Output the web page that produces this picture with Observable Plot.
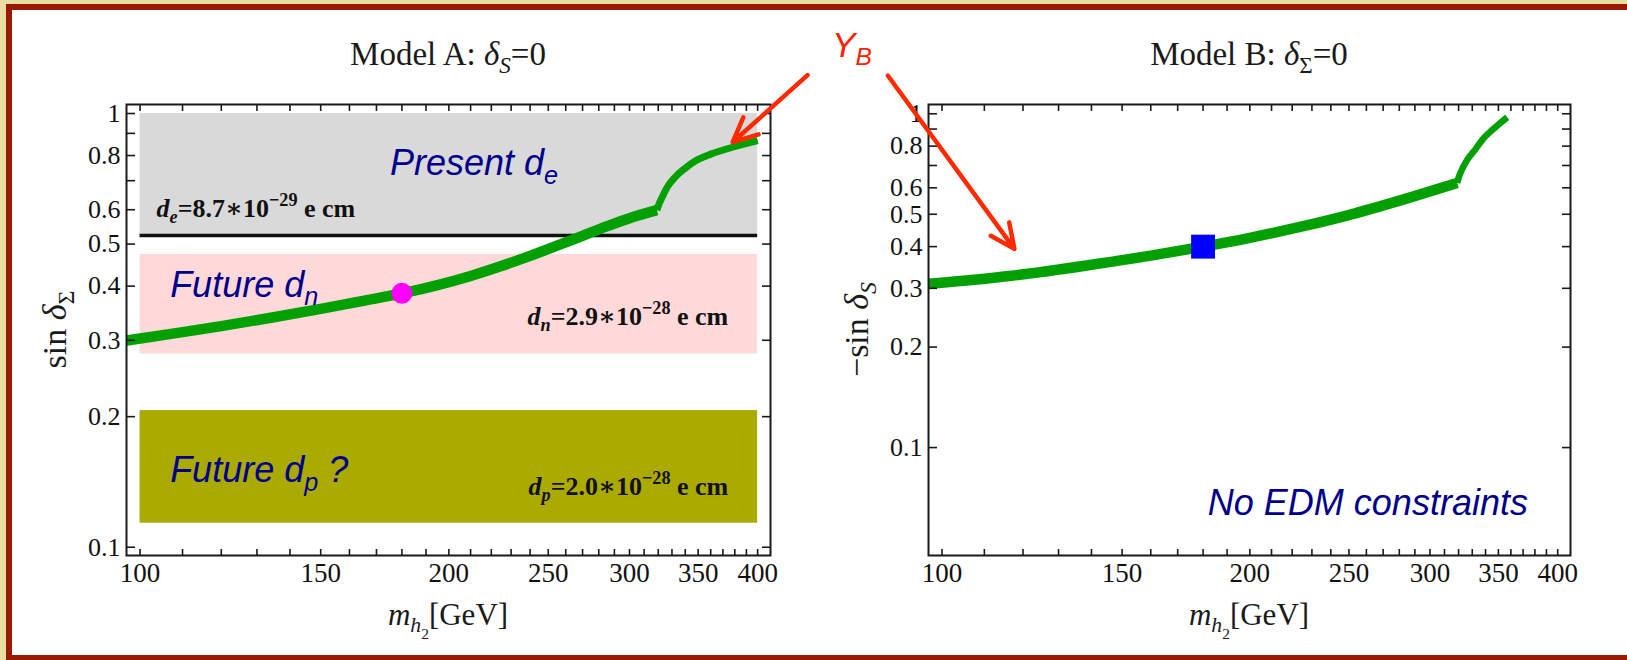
<!DOCTYPE html>
<html>
<head>
<meta charset="utf-8">
<script src="https://cdn.jsdelivr.net/npm/d3@7"></script>
<script src="https://cdn.jsdelivr.net/npm/@observablehq/plot@0.6"></script>
<style>
html, body { margin: 0; padding: 0; background: #fff; }
#page { position: relative; width: 1627px; height: 660px; background: #e9dd9f; overflow: hidden; }
#inner { position: absolute; left: 6px; top: 4px; width: 1621px; height: 656px; box-sizing: border-box;
  border-left: 6px solid #981a02; border-top: 6px solid #981a02; border-bottom: 5px solid #981a02; background: #fff; }
#page svg { position: absolute; left: 0; top: 0; }
</style>
</head>
<body>
<div id="page"><div id="inner"></div></div>
<script>
// ---------------- data ----------------
const massTicks = [100, 110, 120, 130, 140, 150, 160, 170, 180, 190, 200, 210, 220, 230, 240, 250,
                   260, 270, 280, 290, 300, 310, 320, 330, 340, 350, 360, 370, 380, 390, 400];
const massTickLabels = [100, 150, 200, 250, 300, 350, 400];
const sinTicks = [0.1, 0.2, 0.3, 0.4, 0.5, 0.6, 0.7, 0.8, 0.9, 1];
const sinTickLabels = [0.1, 0.2, 0.3, 0.4, 0.5, 0.6, 0.8, 1];
const massDomain = [97, 411.7];
const sinDomainA = [0.0957, 1.049];
const sinDomainB = [0.0475, 1.066];

// Model A: sin(delta_Sigma) vs m_h2 (Y_B curve)
const modelA_mass = [97, 108, 120, 135, 150, 166, 180, 195, 210, 225, 240, 255, 270, 285, 300, 319];
const modelA_sin  = [0.2996, 0.3112, 0.3235, 0.3391, 0.3544, 0.3709, 0.3847, 0.4020, 0.4221, 0.4449,
                     0.4696, 0.4957, 0.5225, 0.5493, 0.5738, 0.5988];
const modelA_massUpper = [319, 320.5, 322.8, 326, 332.3, 340, 348.3, 360, 378, 400];
const modelA_sinUpper  = [0.5988, 0.618, 0.641, 0.672, 0.713, 0.748, 0.779, 0.806, 0.836, 0.866];
const modelA_benchMass = [180];
const modelA_benchSin  = [0.385];

// Model B: -sin(delta_S) vs m_h2
const modelB_mass = [97, 117, 140, 160, 180, 200, 225, 253, 285, 319];
const modelB_sin  = [0.3094, 0.3272, 0.3529, 0.3757, 0.3999, 0.4251, 0.4596, 0.5024, 0.5578, 0.6201];
const modelB_massUpper = [319, 320, 322, 326, 332.6, 338, 344.7, 351, 357];
const modelB_sinUpper  = [0.6201, 0.643, 0.675, 0.725, 0.785, 0.840, 0.891, 0.935, 0.976];
const modelB_benchMass = [180];
const modelB_benchSin  = [0.3999];

// EDM bands (Model A)
const bandNames = ["present_de", "future_dn", "future_dp"];
const bandLow   = [0.523, 0.279, 0.1136];
const bandHigh  = [1.0, 0.473, 0.2066];
const bandMassRange = [100, 400];
const deLimit = [0.523];

// Y_B arrows (data coordinates of each panel)
const arrowA = {m1: [447.4], s1: [1.2256], m2: [378.2], s2: [0.8587]};
const arrowB = {m1: [88.5], s1: [1.302], m2: [117.7], s2: [0.3938]};

// ---------------- drawing ----------------
const W = 1627, H = 660;
const SERIF = "'Liberation Serif', 'DejaVu Serif', serif";
const SANS = "'Liberation Sans', Arial, sans-serif";
const zip = (xs, ys) => xs.map((x, i) => ({x, y: ys[i]}));
const bandFill = {present_de: "#d9d9d9", future_dn: "#ffd9d9", future_dp: "#aaaa00"};
const bands = bandNames.map((name, i) => ({name, x1: bandMassRange[0], x2: bandMassRange[1], y1: bandLow[i], y2: bandHigh[i]}));
const GREEN = "#03a003";

function frameAndAxes() {
  const ts = {stroke: "#1a1a1a", strokeWidth: 1.6};
  return [
    Plot.frame({stroke: "#1a1a1a", strokeWidth: 2}),
    Plot.axisX(massTicks, {anchor: "bottom", tickSize: -6, fill: "none", ...ts}),
    Plot.axisX(massTicks, {anchor: "top", tickSize: -6, fill: "none", ...ts}),
    Plot.axisY(sinTicks, {anchor: "left", tickSize: -9, fill: "none", ...ts}),
    Plot.axisY(sinTicks, {anchor: "right", tickSize: -9, fill: "none", ...ts}),
    Plot.axisX(massTickLabels, {anchor: "bottom", tickSize: 0, tickPadding: 7, tickFormat: d => String(d),
      fill: "#111", fontSize: 27, fontFamily: SERIF, label: null}),
    Plot.axisY(sinTickLabels, {anchor: "left", tickSize: 0, tickPadding: 6, tickFormat: d => String(d),
      fill: "#111", fontSize: 26, fontFamily: SERIF, label: null})
  ];
}

function panel(left, right, yDomain, marks, overlay) {
  return Plot.plot({
    width: W, height: H,
    marginLeft: left, marginRight: W - right, marginTop: 104, marginBottom: H - 555,
    x: {type: "log", domain: massDomain},
    y: {type: "log", domain: yDomain},
    style: {background: "transparent", fontFamily: SERIF, fontSize: "27px", color: "#1a1a1a", overflow: "visible", maxWidth: "none"},
    marks: [...marks, ...frameAndAxes(), ...overlay]
  });
}

const arrowOpts = {x1: "m1", y1: "s1", x2: "m2", y2: "s2", stroke: "#ff2a00", strokeWidth: 4.5, headLength: 9, headAngle: 50};
const asRows = a => a.m1.map((_, i) => ({m1: a.m1[i], s1: a.s1[i], m2: a.m2[i], s2: a.s2[i]}));

const chartA = panel(126, 770, sinDomainA, [
  ...bands.map(b => Plot.rect([b], {x1: "x1", x2: "x2", y1: "y1", y2: "y2", fill: bandFill[b.name]})),
  Plot.ruleY(deLimit, {x1: bandMassRange[0], x2: bandMassRange[1], stroke: "#111", strokeWidth: 3.5}),
  Plot.line(zip(modelA_mass, modelA_sin), {x: "x", y: "y", stroke: GREEN, strokeWidth: 10.5, curve: "monotone-x", strokeLinecap: "butt"}),
  Plot.line(zip(modelA_massUpper, modelA_sinUpper), {x: "x", y: "y", stroke: GREEN, strokeWidth: 7, curve: "monotone-x", strokeLinecap: "butt"}),
  Plot.dot(zip(modelA_benchMass, modelA_benchSin), {x: "x", y: "y", r: 10.5, fill: "#ff00ff"})
], [
  Plot.arrow(asRows(arrowA), arrowOpts)
]);

const chartB = panel(928, 1570, sinDomainB, [
  Plot.line(zip(modelB_mass, modelB_sin), {x: "x", y: "y", stroke: GREEN, strokeWidth: 10.5, curve: "monotone-x", strokeLinecap: "butt"}),
  Plot.line(zip(modelB_massUpper, modelB_sinUpper), {x: "x", y: "y", stroke: GREEN, strokeWidth: 6.5, curve: "monotone-x", strokeLinecap: "butt"}),
  Plot.dot(zip(modelB_benchMass, modelB_benchSin), {x: "x", y: "y", r: 13.5, symbol: "square", fill: "#0000ff"})
], [
  Plot.arrow(asRows(arrowB), arrowOpts)
]);

const page = document.getElementById("page");
page.appendChild(chartA);
page.appendChild(chartB);

// rich text helper: parts = [text, kind("", "sub", "sup", "sub2"), italic?]
function rich(svg, x, y, parts, o) {
  const t = d3.select(svg).append("text")
    .attr("transform", `translate(${x},${y})` + (o.rotate ? ` rotate(${o.rotate})` : ""))
    .attr("text-anchor", o.anchor || "start")
    .attr("font-family", o.family)
    .attr("font-size", o.size)
    .attr("font-weight", o.weight || "normal")
    .attr("font-style", o.style || "normal")
    .attr("fill", o.fill || "#1a1a1a")
    .style("white-space", "pre");
  const scale = {"": 1, sub: 0.7, sup: 0.7, sub2: 0.5};
  const off = {"": 0, sub: 0.24, sup: -0.42, sub2: 0.45};
  let shift = 0;
  for (const [str, kind = "", italic] of parts) {
    const target = off[kind] * o.size;
    const ts = t.append("tspan").attr("dy", target - shift).attr("font-size", o.size * scale[kind]).text(str);
    if (italic !== undefined) ts.attr("font-style", italic ? "italic" : "normal");
    shift = target;
  }
}

function frameLabels(chart, title, xParts, yParts) {
  const [x0, x1] = chart.scale("x").range;
  const yr = chart.scale("y").range;
  const top = Math.min(...yr), bottom = Math.max(...yr);
  rich(chart, (x0 + x1) / 2, top - 39, title, {anchor: "middle", size: 33, family: SERIF});
  rich(chart, (x0 + x1) / 2, bottom + 70, xParts, {anchor: "middle", size: 31, family: SERIF});
  rich(chart, x0 - 60, (top + bottom) / 2, yParts, {anchor: "middle", size: 34, family: SERIF, rotate: -90});
}

const xLabel = [["m", "", true], ["h", "sub", true], ["2", "sub2"], ["[GeV]", ""]];
frameLabels(chartA, [["Model A: "], ["δ", "", true], ["S", "sub", true], ["=0"]], xLabel,
  [["sin "], ["δ", "", true], ["Σ", "sub"]]);
frameLabels(chartB, [["Model B: "], ["δ", "", true], ["Σ", "sub"], ["=0"]], xLabel,
  [["−sin "], ["δ", "", true], ["S", "sub", true]]);

const at = (chart, m, s) => [chart.scale("x").apply(m), chart.scale("y").apply(s)];
const NAVY = "#00008b";

rich(chartA, ...at(chartA, 175.4, 0.7195), [["Present d"], ["e", "sub"]], {size: 36, family: SANS, style: "italic", fill: NAVY});
rich(chartA, ...at(chartA, 107.1, 0.377), [["Future d"], ["n", "sub"]], {size: 36, family: SANS, style: "italic", fill: NAVY});
rich(chartA, ...at(chartA, 107.1, 0.1411), [["Future d"], ["p", "sub"], [" ?"]], {size: 36, family: SANS, style: "italic", fill: NAVY});
rich(chartA, ...at(chartA, 103.9, 0.5767), [["d", "", true], ["e", "sub", true], ["=8.7∗10"], ["−29", "sup"], [" e cm"]],
  {size: 26, family: SERIF, weight: "bold", fill: "#111"});
rich(chartA, ...at(chartA, 374.9, 0.3245), [["d", "", true], ["n", "sub", true], ["=2.9∗10"], ["−28", "sup"], [" e cm"]],
  {size: 26, family: SERIF, weight: "bold", fill: "#111", anchor: "end"});
rich(chartA, ...at(chartA, 374.9, 0.1315), [["d", "", true], ["p", "sub", true], ["=2.0∗10"], ["−28", "sup"], [" e cm"]],
  {size: 26, family: SERIF, weight: "bold", fill: "#111", anchor: "end"});
rich(chartA, ...at(chartA, 473.2, 1.3485), [["Y"], ["B", "sub"]], {size: 35, family: SANS, style: "italic", fill: "#ff2200"});
rich(chartB, ...at(chartB, 374.5, 0.06253), [["No EDM constraints"]], {size: 36, family: SANS, style: "italic", fill: NAVY, anchor: "end"});
</script>
</body>
</html>
